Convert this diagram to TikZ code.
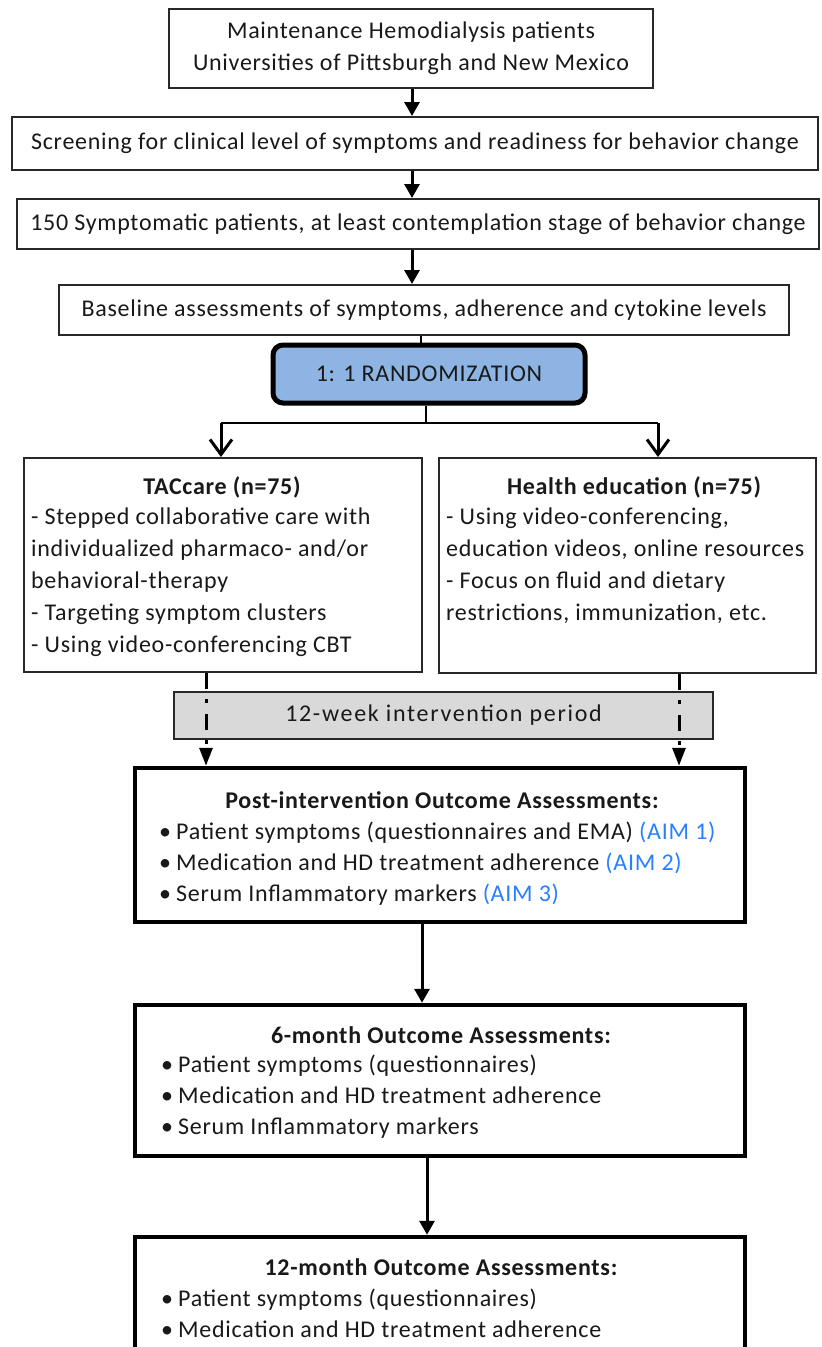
\documentclass[tikz,border=0pt]{standalone}
\usepackage{fontspec}
\setmainfont{Carlito}[LetterSpace=3]
\usetikzlibrary{arrows.meta}
\definecolor{aimblue}{RGB}{41,128,255}
\definecolor{randblue}{RGB}{141,180,226}
\definecolor{grayfill}{RGB}{217,217,217}
\definecolor{edge}{RGB}{40,40,40}
\newcommand{\bul}{\makebox[17pt][l]{•}}
\begin{document}
\begin{tikzpicture}[x=1pt,y=-1pt,
  every node/.style={font=\fontsize{24}{32}\selectfont, inner sep=0pt, text=black!90},
  thinbox/.style={draw=edge, line width=2pt, fill=white},
  thickbox/.style={draw=black, line width=4.5pt, fill=white},
  randbox/.style={draw=black, line width=5pt, fill=randblue, rounded corners=10pt},
  graybox/.style={draw=edge, line width=1.6pt, fill=grayfill},
  arr/.style={line width=3pt, -{Triangle[width=15pt,length=14pt]}},
  openarr/.style={line width=3pt, -{Straight Barb[length=15pt,width=22pt]}},
  dasharr/.style={line width=3pt, dash pattern=on 16pt off 10pt on 4pt off 11pt, -{Triangle[width=13pt,length=18pt]}},
  bullets/.style={font=\fontsize{24}{31}\selectfont, align=left, anchor=west},
  titlefont/.style={font=\fontsize{24}{32}\selectfont\bfseries}
]
\useasboundingbox (0,0) rectangle (822,1347);
\fill[white] (0,0) rectangle (822,1347);
\clip (0,0) rectangle (822,1347);

% top chain
\node[thinbox, minimum width=484, minimum height=79, align=center] (b1) at (411,48.5)
  {Maintenance Hemodialysis patients\\Universities of Pittsburgh and New Mexico};
\node[thinbox, minimum width=806, minimum height=53] (b2) at (415,143.5)
  {Screening for clinical level of symptoms and readiness for behavior change};
\node[thinbox, minimum width=802, minimum height=50] (b3) at (418,224)
  {150 Symptomatic patients, at least contemplation stage of behavior change};
\node[thinbox, minimum width=730, minimum height=50] (b4) at (424,310)
  {Baseline assessments of symptoms, adherence and cytokine levels};
\node[randbox, minimum width=312, minimum height=58] (rand) at (429,374)
  {1: 1 RANDOMIZATION};

% arms
\node[thinbox, minimum width=398, minimum height=214] (tac) at (223,565) {};
\node[titlefont] (tact) at (222,487) {TACcare (n=75)};
\node[align=left, anchor=west] (tacb) at (31,582)
  {- Stepped collaborative care with\\individualized pharmaco- and/or\\behavioral-therapy\\- Targeting symptom clusters\\- Using video-conferencing CBT};
\node[thinbox, minimum width=377, minimum height=215] (he) at (627.5,565.5) {};
\node[titlefont] (het) at (634,487) {Health education (n=75)};
\node[align=left, anchor=west] (heb) at (446,566)
  {- Using video-conferencing,\\education videos, online resources\\- Focus on fluid and dietary\\restrictions, immunization, etc.};

% intervention period
\node[graybox, minimum width=539, minimum height=47] (gray) at (443.5,715.5)
  {\addfontfeature{LetterSpace=7}12-week intervention period};

% outcome boxes
\node[thickbox, minimum width=610, minimum height=154] (post) at (440,845) {};
\node[titlefont] (postt) at (442,800) {Post-intervention Outcome Assessments:};
\node[bullets] (postb) at (159,864)
  {\bul Patient symptoms (questionnaires and EMA) \textcolor{aimblue}{(AIM 1)}\\
   \bul Medication and HD treatment adherence \textcolor{aimblue}{(AIM 2)}\\
   \bul Serum Inflammatory markers \textcolor{aimblue}{(AIM 3)}};

\node[thickbox, minimum width=610, minimum height=151] (six) at (440,1080.5) {};
\node[titlefont] (sixt) at (441,1035) {6-month Outcome Assessments:};
\node[bullets] (sixb) at (161,1097)
  {\bul Patient symptoms (questionnaires)\\
   \bul Medication and HD treatment adherence\\
   \bul Serum Inflammatory markers};

\node[thickbox, minimum width=610, minimum height=151] (twelve) at (440,1312.5) {};
\node[titlefont] (twelvet) at (441,1267) {12-month Outcome Assessments:};
\node[bullets] (twelveb) at (161,1313)
  {\bul Patient symptoms (questionnaires)\\
   \bul Medication and HD treatment adherence};

% helper coordinates
\coordinate (ax) at (412,0);
\coordinate (lx) at (421,0);
\coordinate (hm) at (426,423);
\coordinate (hl) at (221,423);
\coordinate (hr) at (658,423);
\coordinate (dl) at (206,0);
\coordinate (dr) at (679,0);
\coordinate (ox) at (422,0);
\coordinate (oy) at (427,0);

% connectors
\draw[arr] (b1.south -| ax) -- (b2.north -| ax);
\draw[arr] (b2.south -| ax) -- (b3.north -| ax);
\draw[arr] (b3.south -| ax) -- (b4.north -| ax);
\draw[line width=1.5pt] (b4.south -| lx) -- (rand.north -| lx);
\draw[line width=2pt] (rand.south -| hm) -- (hm);
\draw[line width=2pt] (hl) -- (hr);
\draw[openarr] (hl) -- (hl |- tac.north);
\draw[openarr] (hr) -- (hr |- he.north);
\draw[dasharr] (tac.south -| dl) -- (post.north -| dl);
\draw[dasharr] (he.south -| dr) -- (post.north -| dr);
\draw[arr] (post.south -| ox) -- (six.north -| ox);
\draw[arr] (six.south -| oy) -- (twelve.north -| oy);
\end{tikzpicture}
\end{document}
